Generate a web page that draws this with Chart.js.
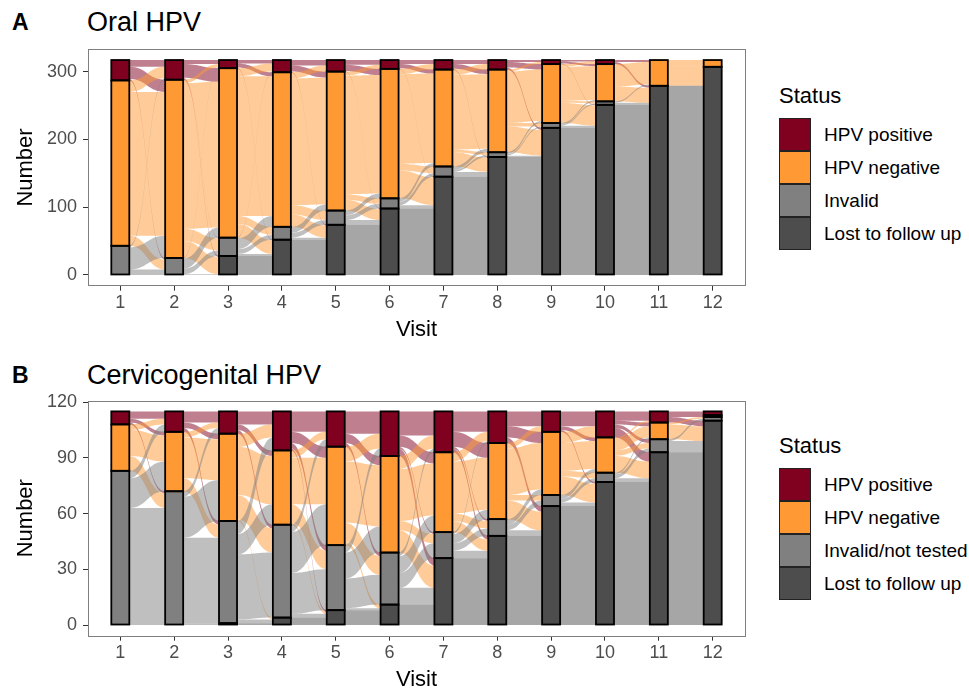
<!DOCTYPE html>
<html><head><meta charset="utf-8">
<script src="https://cdn.jsdelivr.net/npm/chart.js@4.4.1/dist/chart.umd.min.js"></script>
<style>
body{margin:0;background:#fff;width:969px;height:691px;position:relative;overflow:hidden;font-family:"Liberation Sans",Arial,sans-serif;color:#000;}
canvas{position:absolute;left:0;}
.letter{position:absolute;font-weight:bold;font-size:23px;line-height:26px;}
.title{position:absolute;font-size:27px;line-height:30px;}
.legend{position:absolute;left:779px;}
.legend .lt{position:absolute;left:0;top:0;font-size:22px;line-height:22px;white-space:nowrap;}
.legend .row{position:absolute;left:0;height:33px;}
.legend .box{position:absolute;left:0;top:0;width:30px;height:31px;border:1px solid #222;}
.legend .lab{position:absolute;left:45px;top:0;line-height:33px;font-size:19px;white-space:nowrap;}
</style></head>
<body>
<div class="letter" style="left:12px;top:9px">A</div>
<div class="title" style="left:87px;top:7px">Oral HPV</div>
<canvas id="chartA" width="760" height="305" style="top:40px"></canvas>
<div class="legend" id="legA" style="top:85px"></div>

<div class="letter" style="left:12px;top:362px">B</div>
<div class="title" style="left:87px;top:360px">Cervicogenital HPV</div>
<canvas id="chartB" width="760" height="301" style="top:390px"></canvas>
<div class="legend" id="legB" style="top:435px"></div>
<script>
const visits = [1,2,3,4,5,6,7,8,9,10,11,12];
const statusNamesA = ['HPV positive','HPV negative','Invalid','Lost to follow up'];
const statusNamesB = ['HPV positive','HPV negative','Invalid/not tested','Lost to follow up'];
const statusColors = ['#800020','#ff9933','#808080','#4d4d4d'];

// Panel A: Oral HPV (counts per visit)
const oralPositive = [30,29,12,18,17,13,14,14,6,6,0,0];
const oralNegative = [244,263,250,228,205,191,143,122,87,55,38,10];
const oralInvalid  = [43,25,27,19,21,15,15,7,7,5,0,0];
const oralLost     = [0,0,28,52,74,98,145,174,217,251,279,307];
// transitions visit k -> k+1, to [positive, negative, invalid, lost]
const oralFromPositive = [[10,18,2,0],[6,20,1,2],[5,6,0,1],[8,9,0,1],[7,9,0,1],[6,6,0,1],[6,7,0,1],[3,8,0,3],[2,3,0,1],[0,3,0,3],[0,0,0,0]];
const oralFromNegative = [[17,212,15,0],[5,215,18,25],[12,206,12,20],[9,187,14,18],[6,175,8,16],[8,132,10,41],[8,110,4,21],[3,76,5,38],[4,50,3,30],[0,33,0,22],[0,10,0,28]];
const oralFromInvalid  = [[2,33,8,0],[1,15,8,1],[1,16,7,3],[0,9,7,3],[0,7,7,7],[0,5,5,5],[0,5,3,7],[0,3,2,2],[0,2,2,3],[0,2,0,3],[0,0,0,0]];
const oralFromLost     = [[0,0,0,0],[0,0,0,0],[0,0,0,28],[0,0,0,52],[0,0,0,74],[0,0,0,98],[0,0,0,145],[0,0,0,174],[0,0,0,217],[0,0,0,251],[0,0,0,279]];
const oralTicks = [0,100,200,300];

// Panel B: Cervicogenital HPV
const cervPositive = [7,11,12,21,19,24,22,17,11,14,6,2];
const cervNegative = [25,32,47,40,53,52,43,41,34,19,9,1];
const cervInvalid  = [83,72,55,50,35,28,14,9,6,5,7,2];
const cervLost     = [0,0,1,4,8,11,36,48,64,77,93,110];
const cervFromPositive = [[4,2,1,0],[6,3,2,0],[7,3,2,0],[11,6,3,1],[12,5,2,0],[13,6,1,4],[11,8,1,2],[8,6,0,3],[8,2,0,1],[5,2,2,5],[2,1,0,3]];
const cervFromNegative = [[3,14,8,0],[3,22,7,0],[7,26,13,1],[4,25,10,1],[8,33,10,2],[7,28,5,12],[5,28,4,6],[3,25,3,10],[6,15,3,10],[1,6,3,9],[0,0,1,8]];
const cervFromInvalid  = [[4,16,63,0],[3,22,46,1],[7,11,35,2],[4,22,22,2],[4,14,16,1],[2,9,8,9],[1,5,4,4],[0,3,3,3],[0,2,2,2],[0,1,2,2],[0,0,1,6]];
const cervFromLost     = [[0,0,0,0],[0,0,0,0],[0,0,0,1],[0,0,0,4],[0,0,0,8],[0,0,0,11],[0,0,0,36],[0,0,0,48],[0,0,0,64],[0,0,0,77],[0,0,0,93]];
const cervTicks = [0,30,60,90,120];

const HALF_W = 1/6; // stratum half-width in axis units

function rgba(hex, a){
  const n = parseInt(hex.slice(1),16);
  return `rgba(${(n>>16)&255},${(n>>8)&255},${n&255},${a})`;
}

const alluvialPlugin = {
  id:'alluvial',
  beforeDatasetsDraw(chart, args, o){
    const {ctx, chartArea:ca, scales:{x,y}} = chart;
    const strata = o.strata, flows = o.flows;
    ctx.save();
    ctx.beginPath(); ctx.rect(ca.left, ca.top, ca.right-ca.left, ca.bottom-ca.top); ctx.clip();
    const topOf = (k, col) => { let s=0; for(let j=k;j<4;j++) s += strata[j][col]; return s; };
    for(let i=0;i<visits.length-1;i++){
      const outC = [0,1,2,3].map(k=>topOf(k,i));
      const inC = [0,1,2,3].map(k=>topOf(k,i+1));
      const x0 = x.getPixelForValue(visits[i]+HALF_W), x1 = x.getPixelForValue(visits[i+1]-HALF_W);
      const xm = (x0+x1)/2;
      for(let s=0;s<4;s++){
        for(let t=0;t<4;t++){
          const c = flows[s][i][t];
          if(!c) continue;
          const a0 = outC[s], b0 = a0-c; outC[s] = b0;
          const a1 = inC[t], b1 = a1-c; inC[t] = b1;
          const ya0=y.getPixelForValue(a0), yb0=y.getPixelForValue(b0), ya1=y.getPixelForValue(a1), yb1=y.getPixelForValue(b1);
          ctx.beginPath();
          ctx.moveTo(x0, ya0);
          ctx.bezierCurveTo(xm, ya0, xm, ya1, x1, ya1);
          ctx.lineTo(x1, yb1);
          ctx.bezierCurveTo(xm, yb1, xm, yb0, x0, yb0);
          ctx.closePath();
          ctx.fillStyle = rgba(statusColors[s], 0.5);
          ctx.fill();
        }
      }
    }
    ctx.restore();
  },
  afterDatasetsDraw(chart){
    const {ctx} = chart;
    ctx.save();
    ctx.strokeStyle = '#000'; ctx.lineWidth = 1.8;
    chart.data.datasets.forEach((ds, di)=>{
      const meta = chart.getDatasetMeta(di);
      meta.data.forEach((el, j)=>{
        if(ds.data[j].y === null) return;
        const p = el.getProps(['x','y','base','width'], true);
        ctx.strokeRect(p.x - p.width/2, p.y, p.width, p.base - p.y);
      });
    });
    ctx.restore();
  },
  afterDraw(chart){
    const {ctx, chartArea:ca} = chart;
    ctx.save();
    ctx.strokeStyle = '#7f7f7f'; ctx.lineWidth = 1;
    ctx.strokeRect(Math.round(ca.left)+0.5, Math.round(ca.top)+0.5, Math.round(ca.right-ca.left), Math.round(ca.bottom-ca.top));
    ctx.restore();
  }
};

function makeChart(id, pos, neg, inv, lost, fromP, fromN, fromI, fromL, yTicks, opt){
  const total = pos[0]+neg[0]+inv[0]+lost[0];
  const mk = arr => visits.map((v,i)=>({x:v, y: arr[i] ? arr[i] : null}));
  const series = [lost, inv, neg, pos];
  const cols = [statusColors[3], statusColors[2], statusColors[1], statusColors[0]];
  const tickFont = {family:'"Liberation Sans", Arial, sans-serif', size:18};
  const titleFont = {family:'"Liberation Sans", Arial, sans-serif', size:22};
  return new Chart(document.getElementById(id), {
    type:'bar',
    data:{datasets: series.map((arr,k)=>({data: mk(arr), backgroundColor: cols[k], borderWidth:0, barThickness:18}))},
    options:{
      responsive:false, animation:false, devicePixelRatio:1,
      layout:{padding:{top:opt.padTop, right:15, left:0, bottom:0}},
      plugins:{legend:{display:false}, tooltip:{enabled:false},
        alluvial:{strata:[pos,neg,inv,lost], flows:[fromP,fromN,fromI,fromL]}},
      scales:{
        x:{type:'linear', stacked:true, offset:false, min:0.4, max:12.6,
          afterBuildTicks: s => { s.ticks = visits.map(v=>({value:v})); },
          afterFit: s => { s.height = opt.xh; s.paddingLeft = 0; s.paddingRight = 0; },
          grid:{display:true, offset:false, drawOnChartArea:false, drawTicks:true, tickLength:5, color:'#333'},
          border:{display:false},
          ticks:{color:'#4d4d4d', font:tickFont, padding:2, maxRotation:0, autoSkip:false},
          title:{display:true, text:'Visit', color:'#000', font:titleFont, padding:{top:0,bottom:opt.titlePad}}
        },
        y:{type:'linear', stacked:true, min:-total*0.05, max:total*1.05,
          afterBuildTicks: s => { s.ticks = yTicks.map(v=>({value:v})); },
          afterFit: s => { s.width = 88; s.paddingTop = 0; s.paddingBottom = 0; },
          grid:{display:true, drawOnChartArea:false, drawTicks:true, tickLength:5, color:'#333'},
          border:{display:false},
          ticks:{color:'#4d4d4d', font:tickFont, padding:6},
          title:{display:true, text:'Number', color:'#000', font:titleFont, padding:{top:13,bottom:0}}
        }
      }
    },
    plugins:[alluvialPlugin]
  });
}

makeChart('chartA', oralPositive, oralNegative, oralInvalid, oralLost,
  oralFromPositive, oralFromNegative, oralFromInvalid, oralFromLost, oralTicks, {padTop:9.3, xh:59.3, titlePad:2});
makeChart('chartB', cervPositive, cervNegative, cervInvalid, cervLost,
  cervFromPositive, cervFromNegative, cervFromInvalid, cervFromLost, cervTicks, {padTop:10.7, xh:55.3, titlePad:-2});

function buildLegend(id, names){
  const el = document.getElementById(id);
  let h = '<div class="lt">Status</div>';
  names.forEach((n,i)=>{
    h += `<div class="row" style="top:${33 + i*33}px"><div class="box" style="background:${statusColors[i]}"></div><div class="lab">${n}</div></div>`;
  });
  el.innerHTML = h;
}
buildLegend('legA', statusNamesA);
buildLegend('legB', statusNamesB);
</script>
</body></html>
